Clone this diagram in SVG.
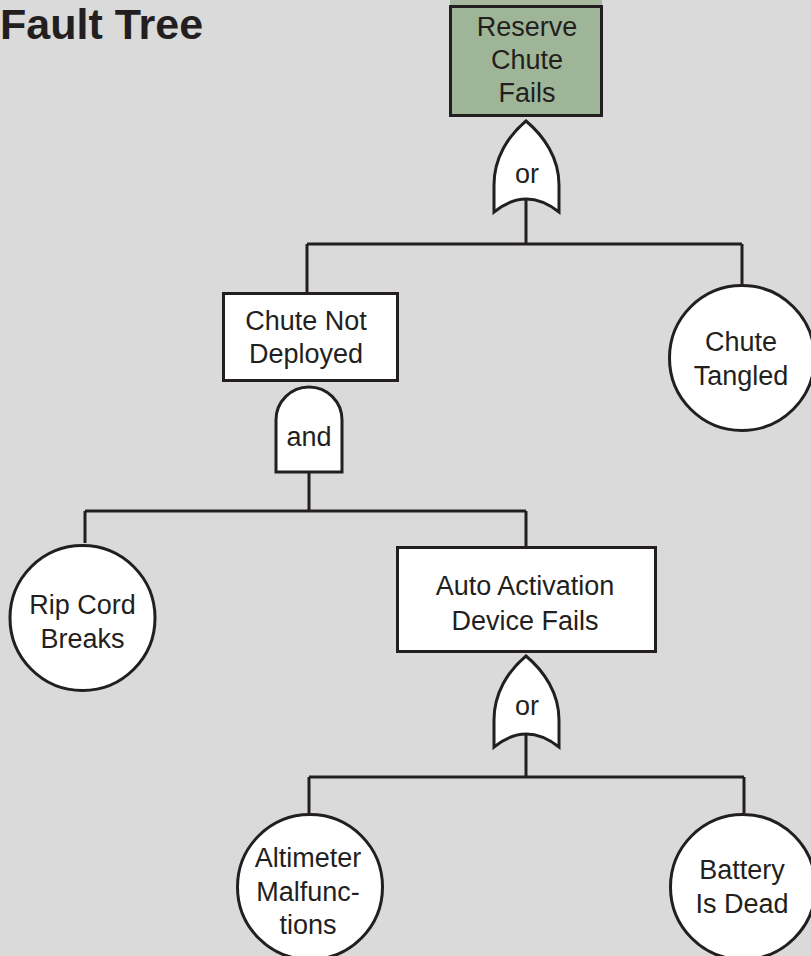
<svg xmlns="http://www.w3.org/2000/svg" width="811" height="956" viewBox="0 0 811 956">
  <style>
    .bg { fill: #dadada; }
    .line { fill: none; stroke: #231f20; stroke-width: 3; }
    .box { fill: #ffffff; stroke: #231f20; stroke-width: 3; }
    .top { fill: #9fb597; stroke: #231f20; stroke-width: 3; }
    .gate { fill: #ffffff; stroke: #231f20; stroke-width: 3; stroke-linejoin: miter; }
    .lbl { font-family: "Liberation Sans", Arial, Helvetica, sans-serif; font-size: 27px; fill: #231f20; text-anchor: middle; }
    .title { font-family: "Liberation Sans", Arial, Helvetica, sans-serif; font-size: 43px; font-weight: bold; fill: #231f20; }
  </style>
  <defs>
    <!-- OR gate outline, tip at the origin -->
    <path id="orShape" d="M0,0 C-18,15 -32,37 -32,64 L-32,91 Q0,65 33,91 L33,64 C33,37 18,15 0,0 Z"/>
  </defs>

  <rect class="bg" x="0" y="0" width="811" height="956"/>

  <text class="title" x="0" y="39">Fault Tree</text>

  <!-- connectors -->
  <g id="connectors">
    <!-- top OR gate to its inputs -->
    <path class="line" d="M526,199 V244 M307,244 H742 M307,244 V292 M742,244 V285"/>
    <!-- AND gate to its inputs -->
    <path class="line" d="M309,473 V511 M85,511 H526 M85,511 V543 M526,511 V546"/>
    <!-- lower OR gate to its inputs -->
    <path class="line" d="M526,735 V777 M309,777 H744 M309,777 V813 M744,777 V813"/>
  </g>

  <!-- top event -->
  <g id="reserve-chute-fails">
    <rect x="450" y="0" width="152" height="6" fill="#a6b99e"/>
    <rect class="top" x="450.5" y="6.5" width="151" height="109"/>
    <text class="lbl" x="527" y="36">Reserve</text>
    <text class="lbl" x="527" y="69">Chute</text>
    <text class="lbl" x="527" y="102">Fails</text>
  </g>

  <g id="gate-or-top">
    <use href="#orShape" class="gate" x="526" y="121"/>
    <text class="lbl" x="527" y="183">or</text>
  </g>

  <g id="chute-not-deployed">
    <rect class="box" x="223.5" y="293.5" width="174" height="87"/>
    <text class="lbl" x="306" y="330">Chute Not</text>
    <text class="lbl" x="306" y="363">Deployed</text>
  </g>

  <g id="chute-tangled">
    <circle class="box" cx="742" cy="358" r="72.5"/>
    <text class="lbl" x="741" y="351">Chute</text>
    <text class="lbl" x="741" y="385">Tangled</text>
  </g>

  <g id="gate-and">
    <path class="gate" d="M276,472 L276,420 A33,33 0 0 1 342,420 L342,472 Z"/>
    <text class="lbl" x="309" y="446">and</text>
  </g>

  <g id="rip-cord-breaks">
    <circle class="box" cx="82.5" cy="618" r="72.5"/>
    <text class="lbl" x="82.5" y="614">Rip Cord</text>
    <text class="lbl" x="82.5" y="648">Breaks</text>
  </g>

  <g id="auto-activation-device-fails">
    <rect class="box" x="397.5" y="547.5" width="258" height="104"/>
    <text class="lbl" x="525" y="595">Auto Activation</text>
    <text class="lbl" x="525" y="630">Device Fails</text>
  </g>

  <g id="gate-or-lower">
    <use href="#orShape" class="gate" x="526" y="656"/>
    <text class="lbl" x="527" y="715">or</text>
  </g>

  <g id="altimeter-malfunctions">
    <circle class="box" cx="310" cy="887" r="72.5"/>
    <text class="lbl" x="308" y="867">Altimeter</text>
    <text class="lbl" x="308" y="901">Malfunc-</text>
    <text class="lbl" x="308" y="934">tions</text>
  </g>

  <g id="battery-is-dead">
    <circle class="box" cx="743" cy="887" r="72.5"/>
    <text class="lbl" x="742" y="879">Battery</text>
    <text class="lbl" x="742" y="913">Is Dead</text>
  </g>
</svg>
